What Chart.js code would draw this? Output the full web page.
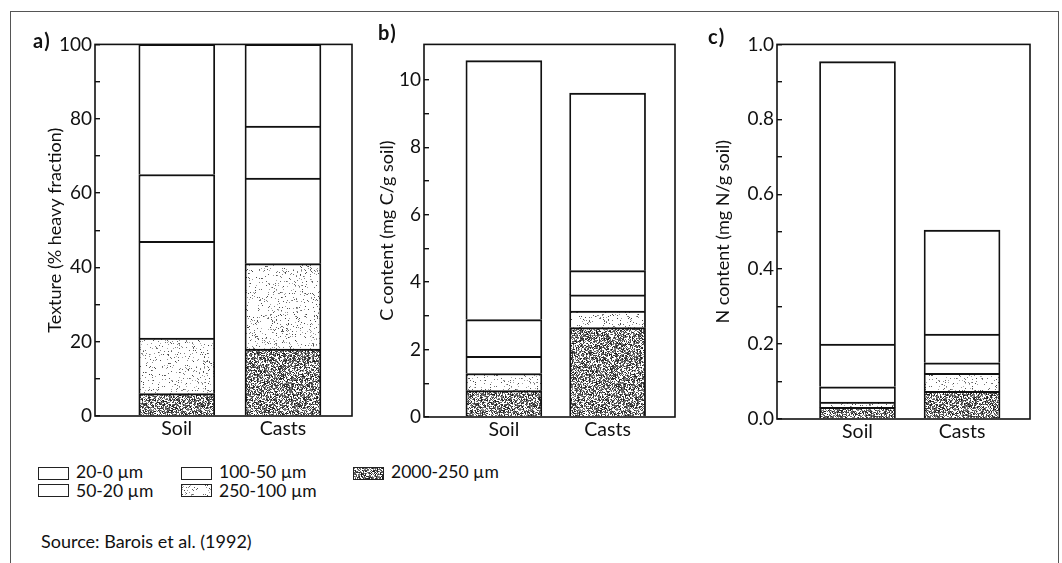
<!DOCTYPE html>
<html><head><meta charset="utf-8">
<script src="https://cdn.jsdelivr.net/npm/chart.js@4.4.1/dist/chart.umd.min.js"></script>
<style>
html,body{margin:0;padding:0;background:#fff;}
body{width:1062px;height:563px;position:relative;overflow:hidden;font-family:Lato,"Open Sans",sans-serif;color:#111;}
#frame{position:absolute;left:10px;top:11px;width:1047px;height:560px;border:1px solid #555;border-bottom:none;}
canvas.cv{position:absolute;}
.pl{position:absolute;font-weight:bold;font-size:20px;line-height:20px;letter-spacing:1.5px;white-space:nowrap;}
.lg{position:absolute;font-size:17.5px;line-height:17.5px;white-space:nowrap;}
.src{position:absolute;font-size:18px;line-height:18px;white-space:nowrap;}
.sw{position:absolute;width:29px;height:11px;border:1px solid #222;background:#fff;}
</style></head><body>
<div id="frame"></div>
<canvas class="cv" id="ca" width="330" height="420" style="left:30px;top:25px"></canvas>
<canvas class="cv" id="cb" width="318" height="420" style="left:362px;top:25px"></canvas>
<canvas class="cv" id="cc" width="340" height="420" style="left:700px;top:25px"></canvas>
<div class="pl" style="left:33px;top:30px">a)</div>
<div class="pl" style="left:378px;top:22px">b)</div>
<div class="pl" style="left:708px;top:26px">c)</div>
<div id="legend"></div>
<div class="src" style="left:41px;top:532px">Source: Barois et al. (1992)</div>
<script>
// ---- data (segments stacked bottom -> top, per category) ----
const categories = ['Soil', 'Casts'];
const fractions = ['2000-250 µm', '250-100 µm', '100-50 µm', '50-20 µm', '20-0 µm'];
// a) Texture (% heavy fraction)
const textureSoil  = [6, 15, 26, 18, 35];
const textureCasts = [18, 23, 23, 14, 22];
// b) C content (mg C/g soil)
const carbonSoil  = [0.78, 0.51, 0.51, 1.09, 7.68];
const carbonCasts = [2.65, 0.49, 0.48, 0.72, 5.27];
// c) N content (mg N/g soil)
const nitrogenSoil  = [0.031, 0.014, 0.041, 0.114, 0.754];
const nitrogenCasts = [0.074, 0.048, 0.028, 0.077, 0.277];
// tick labels
const textureTickLabels = [0, 20, 40, 60, 80, 100];
const carbonTickLabels = [0, 2, 4, 6, 8, 10];
const nitrogenTickLabels = ['0.0', '0.2', '0.4', '0.6', '0.8', '1.0'];
// legend layout (column-major as in the figure)
const legendColumns = [['20-0 µm', '50-20 µm'], ['100-50 µm', '250-100 µm'], ['2000-250 µm']];

Chart.defaults.font.family = 'Lato, "Open Sans", sans-serif';
Chart.defaults.font.size = 19;
Chart.defaults.color = '#111';

// deterministic stipple textures
function hash(x, y, s) {
  let h = (Math.imul(x, 374761393) + Math.imul(y, 668265263) + Math.imul(s, 97531)) | 0;
  h = Math.imul(h ^ (h >>> 13), 1274126177);
  h ^= h >>> 16;
  return (h >>> 0) / 4294967296;
}
function stippleCanvas(density, shade, spread, seed) {
  const n = 97, c = document.createElement('canvas');
  c.width = c.height = n;
  const ctx = c.getContext('2d');
  const img = ctx.createImageData(n, n);
  for (let y = 0; y < n; y++) for (let x = 0; x < n; x++) {
    let v = 255;
    if (hash(x, y, seed) < density) v = shade + Math.floor(hash(x, y, seed + 11) * spread);
    const k = (y * n + x) * 4;
    img.data[k] = img.data[k + 1] = img.data[k + 2] = v; img.data[k + 3] = 255;
  }
  ctx.putImageData(img, 0, 0);
  return c;
}
const darkCanvas = stippleCanvas(0.6, 20, 130, 3);
const lightCanvas = stippleCanvas(0.09, 60, 120, 9);
const pctx = document.createElement('canvas').getContext('2d');
const fills = {
  '2000-250 µm': pctx.createPattern(darkCanvas, 'repeat'),
  '250-100 µm': pctx.createPattern(lightCanvas, 'repeat'),
  '100-50 µm': '#ffffff', '50-20 µm': '#ffffff', '20-0 µm': '#ffffff'
};
const swatchBg = {
  '2000-250 µm': 'url(' + darkCanvas.toDataURL() + ')',
  '250-100 µm': 'url(' + lightCanvas.toDataURL() + ')'
};

// legend (HTML)
const legendEl = document.getElementById('legend');
const colX = [38, 181, 353], rowY = [467, 484], textTop = [463, 482];
legendColumns.forEach((col, ci) => col.forEach((name, ri) => {
  const sw = document.createElement('div');
  sw.className = 'sw';
  sw.style.left = colX[ci] + 'px'; sw.style.top = rowY[ri] + 'px';
  if (swatchBg[name]) sw.style.backgroundImage = swatchBg[name];
  legendEl.appendChild(sw);
  const t = document.createElement('div');
  t.className = 'lg';
  t.textContent = name;
  t.style.left = (colX[ci] + 38) + 'px'; t.style.top = textTop[ri] + 'px';
  legendEl.appendChild(t);
}));

const framePlugin = {
  id: 'frame',
  afterDatasetsDraw(chart) {
    const a = chart.chartArea, ctx = chart.ctx;
    ctx.save();
    ctx.strokeStyle = '#111'; ctx.lineWidth = 1.6;
    ctx.strokeRect(a.left, a.top, a.right - a.left, a.bottom - a.top);
    ctx.restore();
  }
};

function makePanel(id, soil, casts, g) {
  const datasets = fractions.map((f, i) => ({
    label: f,
    stack: 'all',
    data: [{ x: 0, y: soil[i] }, { x: 1, y: casts[i] }],
    backgroundColor: fills[f],
    borderColor: '#111',
    borderWidth: { top: 2, left: 1.8, right: 1.8, bottom: 0 },
    borderSkipped: false,
    barThickness: 76
  }));
  return new Chart(document.getElementById(id), {
    type: 'bar',
    data: { datasets },
    plugins: [framePlugin],
    options: {
      responsive: false, animation: false, events: [],
      layout: { padding: { top: g.pt, right: g.pr, left: 0, bottom: 0 } },
      plugins: { legend: { display: false }, tooltip: { enabled: false } },
      scales: {
        x: {
          type: 'linear', min: -0.77, max: 1.65, offset: false, bounds: 'data',
          grid: { display: false, drawTicks: false }, border: { display: false },
          ticks: { padding: 1, autoSkip: false, font: { size: 19.5 }, callback: v => categories[Math.round(v)] },
          afterBuildTicks: s => { s.ticks = categories.map((c, i) => ({ value: i })); },
          afterFit: s => { s.height = g.xh; }
        },
        y: {
          stacked: true, min: 0, max: g.max,
          grid: { drawOnChartArea: false, color: '#111', lineWidth: 1.4, tickLength: -5 },
          border: { display: false },
          ticks: { stepSize: g.step, includeBounds: false, padding: 8, autoSkip: false, callback: g.cb },
          title: { display: true, text: g.title, font: { size: 18, lineHeight: 1.2 }, padding: { top: g.tp, bottom: 0 } },
          afterFit: s => { s.width = g.yw; }
        }
      }
    }
  });
}

makePanel('ca', textureSoil, textureCasts, {
  pt: 14, pr: 8, xh: 29, yw: 65, tp: 14, max: 100, step: 10,
  title: 'Texture (% heavy fraction)',
  cb: v => textureTickLabels.includes(Math.round(v)) ? String(Math.round(v)) : ''
});
makePanel('cb', carbonSoil, carbonCasts, {
  pt: 12, pr: 5, xh: 28, yw: 62, tp: 14, max: 11.05, step: 1,
  title: 'C content (mg C/g soil)',
  cb: v => { const r = Math.round(v); if (r > 10) return null; return carbonTickLabels.includes(r) ? String(r) : ''; }
});
makePanel('cc', nitrogenSoil, nitrogenCasts, {
  pt: 14, pr: 10, xh: 26, yw: 77, tp: 12, max: 1.0, step: 0.1,
  title: 'N content (mg N/g soil)',
  cb: v => { const s = (Math.round(v * 10) / 10).toFixed(1); return nitrogenTickLabels.includes(s) ? s : ''; }
});
</script>
</body></html>
